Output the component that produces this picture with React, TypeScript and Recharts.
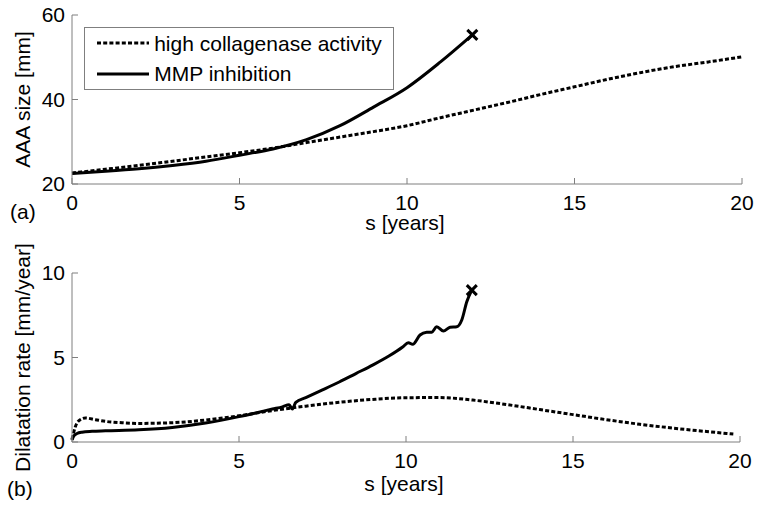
import React from "react";
import { LineChart, Line, XAxis, YAxis, Legend } from "recharts";

const FONT = "'Liberation Sans', Arial, Helvetica, sans-serif";
const AXIS_GRAY = "#7f7f7f";
const DOTTED = "4 2.2";

const X_TICKS = [0, 5, 10, 15, 20];
const SIZE_TICKS = [20, 40, 60];
const RATE_TICKS = [0, 5, 10];

const SERIES_NAMES = ["high collagenase activity", "MMP inhibition"];

// (a) AAA size [mm]
const sizeYearsHigh = [0, 1, 2, 3, 4, 5, 6, 7, 8, 9, 10, 11, 12, 13, 14, 15, 16, 17, 18, 19, 20];
const sizeHighCollagenase = [22.6, 23.5, 24.4, 25.4, 26.4, 27.4, 28.5, 29.8, 31.1, 32.4, 33.8, 35.7, 37.5, 39.3, 41.2, 43.0, 44.8, 46.4, 47.8, 48.9, 50.1];

const sizeYearsMmp = [0, 1, 2, 3, 4, 5, 6, 7, 8, 9, 10, 11, 11.95];
const sizeMmpInhibition = [22.5, 23.0, 23.6, 24.4, 25.4, 26.8, 28.3, 30.5, 33.8, 38.2, 42.8, 48.9, 55.3];

// (b) Dilatation rate [mm/year]
const rateYearsHigh = [0, 0.1, 0.2, 0.4, 0.7, 1, 1.5, 2, 3, 4, 5, 6, 7, 8, 9, 10, 11, 12, 13, 14, 15, 16, 17, 18, 19, 19.8];
const rateHighCollagenase = [0.15, 0.9, 1.25, 1.42, 1.32, 1.22, 1.14, 1.1, 1.14, 1.3, 1.55, 1.86, 2.12, 2.35, 2.52, 2.62, 2.63, 2.48, 2.22, 1.92, 1.62, 1.32, 1.05, 0.82, 0.62, 0.47];

const rateYearsMmp = [0, 0.05, 0.15, 0.3, 0.6, 1, 2, 3, 4, 5, 5.5, 6, 6.3, 6.5, 6.6, 6.7, 7, 7.5, 8, 8.5, 9, 9.5, 9.9, 10.07, 10.2, 10.42, 10.62, 10.77, 10.92, 11.12, 11.32, 11.52, 11.67, 11.82, 11.97];
const rateMmpInhibition = [0.12, 0.35, 0.5, 0.58, 0.63, 0.66, 0.72, 0.86, 1.12, 1.5, 1.72, 1.95, 2.08, 2.2, 1.95, 2.35, 2.62, 3.08, 3.55, 4.05, 4.55, 5.1, 5.62, 5.88, 5.78, 6.33, 6.49, 6.5, 6.82, 6.57, 6.79, 6.82, 7.22, 8.3, 8.99];

const toRows = (xs: number[], ys: number[]) => xs.map((s, i) => ({ s, v: ys[i] }));

const tickStyle = { fill: "#000", fontSize: 21, fontFamily: FONT };

// cross marker on the last point of a series
const endCross = (props: any) => {
  const { cx, cy, index, points } = props;
  const last = (points?.length ?? 0) - 1;
  if (index !== last || cx == null) return <g key={`d-${index}`} />;
  return (
    <path
      key={`d-${index}`}
      d={`M${cx - 5},${cy - 5}L${cx + 5},${cy + 5}M${cx - 5},${cy + 5}L${cx + 5},${cy - 5}`}
      stroke="#000"
      strokeWidth={3}
      fill="none"
    />
  );
};

const yLabel = (text: string) => (props: any) => {
  const vb = props.viewBox;
  const x = vb.x + 30;
  const y = vb.y + vb.height / 2;
  return (
    <text x={x} y={y} transform={`rotate(-90 ${x} ${y})`} textAnchor="middle" fontSize={21} fontFamily={FONT} fill="#000">
      {text}
    </text>
  );
};

const xLabel = (panel: string, labelDy: number, panelDy: number, panelX: number) => (props: any) => {
  const vb = props.viewBox;
  return (
    <g fontSize={21} fontFamily={FONT} fill="#000">
      <text x={vb.x + vb.width / 2 - 2} y={vb.y + labelDy} textAnchor="middle">s [years]</text>
      <text x={panelX} y={vb.y + panelDy}>{panel}</text>
    </g>
  );
};

const renderLegend = (props: any) => {
  const payload = props.payload ?? [];
  return (
    <div
      style={{
        boxSizing: "border-box",
        width: 310,
        height: 63,
        border: `1px solid ${AXIS_GRAY}`,
        background: "#fff",
        paddingTop: 0,
        fontFamily: FONT,
        fontSize: 21,
        color: "#000",
      }}
    >
      {payload.map((entry: any) => (
        <div key={entry.value} style={{ display: "flex", alignItems: "center", height: 30.5 }}>
          <svg width={52} height={6} style={{ marginLeft: 11.5, flex: "none" }}>
            <line
              x1={0}
              y1={3}
              x2={52}
              y2={3}
              stroke="#000"
              strokeWidth={3}
              strokeDasharray={entry.value === SERIES_NAMES[0] ? DOTTED : undefined}
            />
          </svg>
          <span style={{ marginLeft: 5.7, lineHeight: "21px", whiteSpace: "nowrap" }}>{entry.value}</span>
        </div>
      ))}
    </div>
  );
};

function Panel(props: {
  height: number;
  top: number;
  right: number;
  axisHeight: number;
  domain: [number, number];
  yTicks: number[];
  yText: string;
  panel: string;
  labelDy: number;
  panelDy: number;
  panelX: number;
  high: { s: number; v: number }[];
  mmp: { s: number; v: number }[];
  legend?: boolean;
}) {
  const axisCommon = { stroke: AXIS_GRAY, tickSize: -6 };
  return (
    <LineChart width={761} height={props.height} margin={{ top: props.top, right: props.right, bottom: 0, left: 0 }}>
      <XAxis
        xAxisId="b"
        type="number"
        dataKey="s"
        domain={[0, 20]}
        ticks={X_TICKS}
        interval={0}
        height={props.axisHeight}
        tickMargin={17}
        tick={tickStyle}
        label={{ content: xLabel(props.panel, props.labelDy, props.panelDy, props.panelX) }}
        {...axisCommon}
      />
      <XAxis xAxisId="t" orientation="top" type="number" dataKey="s" domain={[0, 20]} ticks={X_TICKS} interval={0} height={0} tick={() => <g />} {...axisCommon} />
      <YAxis
        yAxisId="l"
        type="number"
        domain={props.domain}
        ticks={props.yTicks}
        interval={0}
        width={72}
        tickMargin={13}
        tick={tickStyle}
        label={{ content: yLabel(props.yText) }}
        {...axisCommon}
      />
      <YAxis yAxisId="r" orientation="right" type="number" domain={props.domain} ticks={props.yTicks} interval={0} width={0} tick={() => <g />} {...axisCommon} />
      {props.legend && (
        <Legend
          layout="vertical"
          align="center"
          verticalAlign="middle"
          content={renderLegend}
          itemSorter={(item: any) => SERIES_NAMES.indexOf(item.value)}
          wrapperStyle={{ left: 84, top: 27, width: 310, height: 63 }}
        />
      )}
      <Line
        xAxisId="b"
        yAxisId="l"
        data={props.high}
        dataKey="v"
        name={SERIES_NAMES[0]}
        type="monotone"
        stroke="#000"
        strokeWidth={3}
        strokeDasharray={DOTTED}
        dot={false}
        activeDot={false}
        isAnimationActive={false}
      />
      <Line
        xAxisId="b"
        yAxisId="l"
        data={props.mmp}
        dataKey="v"
        name={SERIES_NAMES[1]}
        type="monotone"
        stroke="#000"
        strokeWidth={3}
        dot={endCross}
        activeDot={false}
        isAnimationActive={false}
      />
    </LineChart>
  );
}

export default function App() {
  return (
    <div style={{ position: "absolute", left: 0, top: 0, width: 761, height: 514, background: "#fff", fontFamily: FONT }}>
      <style>{`.recharts-surface { overflow: visible; }`}</style>
      <Panel
        height={257}
        top={15}
        right={19}
        axisHeight={73}
        domain={[20, 60]}
        yTicks={SIZE_TICKS}
        yText="AAA size [mm]"
        panel="(a)"
        labelDy={45.5}
        panelDy={35}
        panelX={10}
        high={toRows(sizeYearsHigh, sizeHighCollagenase)}
        mmp={toRows(sizeYearsMmp, sizeMmpInhibition)}
        legend
      />
      <Panel
        height={257}
        top={16}
        right={21}
        axisHeight={72}
        domain={[0, 10]}
        yTicks={RATE_TICKS}
        yText="Dilatation rate [mm/year]"
        panel="(b)"
        labelDy={49}
        panelDy={53.6}
        panelX={7}
        high={toRows(rateYearsHigh, rateHighCollagenase)}
        mmp={toRows(rateYearsMmp, rateMmpInhibition)}
      />
    </div>
  );
}
